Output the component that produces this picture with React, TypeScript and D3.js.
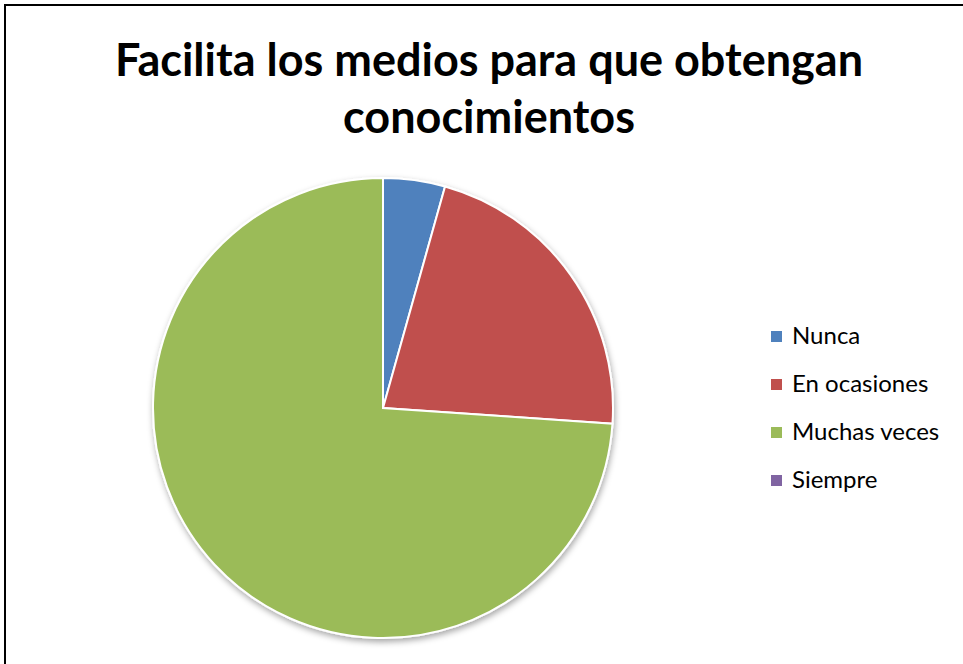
import React from "react";
import * as d3 from "d3";

const categories = ["Nunca", "En ocasiones", "Muchas veces", "Siempre"];
const values = [1, 5, 17, 0];
const colors = ["#4F81BD", "#C0504D", "#9BBB59", "#8064A2"];
const titleLines = ["Facilita los medios para que obtengan", "conocimientos"];

const App: React.FC = () => {
  const width = 963;
  const height = 664;
  const cx = 383;
  const cy = 408;
  const radius = 230;

  const pie = d3
    .pie<number>()
    .sort(null)
    .value((d) => d);
  const arcs = pie(values);
  const arc = d3.arc<d3.PieArcDatum<number>>().innerRadius(0).outerRadius(radius);

  const legendY = d3
    .scalePoint<string>()
    .domain(categories)
    .range([336, 480]);

  return (
    <svg
      width={width}
      height={height}
      style={{ position: "absolute", left: 0, top: 0, background: "#fff" }}
      fontFamily="Lato, 'Open Sans', sans-serif"
    >
      <defs>
        <filter id="shadow" x="-20%" y="-20%" width="140%" height="140%">
          <feDropShadow dx="1" dy="3" stdDeviation="3" floodColor="#000" floodOpacity="0.35" />
        </filter>
      </defs>
      <rect x={5} y={5} width={1000} height={700} fill="#fff" stroke="#000" strokeWidth={2} />

      {/* título */}
      {titleLines.map((t, i) => (
        <text
          key={i}
          x={489}
          y={76 + i * 57}
          textAnchor="middle"
          fontSize={45}
          fontWeight="bold"
          fill="#000"
        >
          {t}
        </text>
      ))}

      {/* pastel */}
      <g transform={`translate(${cx},${cy})`} filter="url(#shadow)">
        {arcs.map((a, i) =>
          a.value > 0 ? (
            <path key={i} d={arc(a) ?? ""} fill={colors[i]} stroke="#fff" strokeWidth={2} />
          ) : null
        )}
      </g>

      {/* leyenda */}
      {categories.map((c, i) => (
        <g key={c} transform={`translate(771,${legendY(c)})`}>
          <rect x={0} y={-5} width={11} height={11} fill={colors[i]} />
          <text x={21} y={0} dy="0.35em" fontSize={24} fill="#000">
            {c}
          </text>
        </g>
      ))}
    </svg>
  );
};

export default App;
